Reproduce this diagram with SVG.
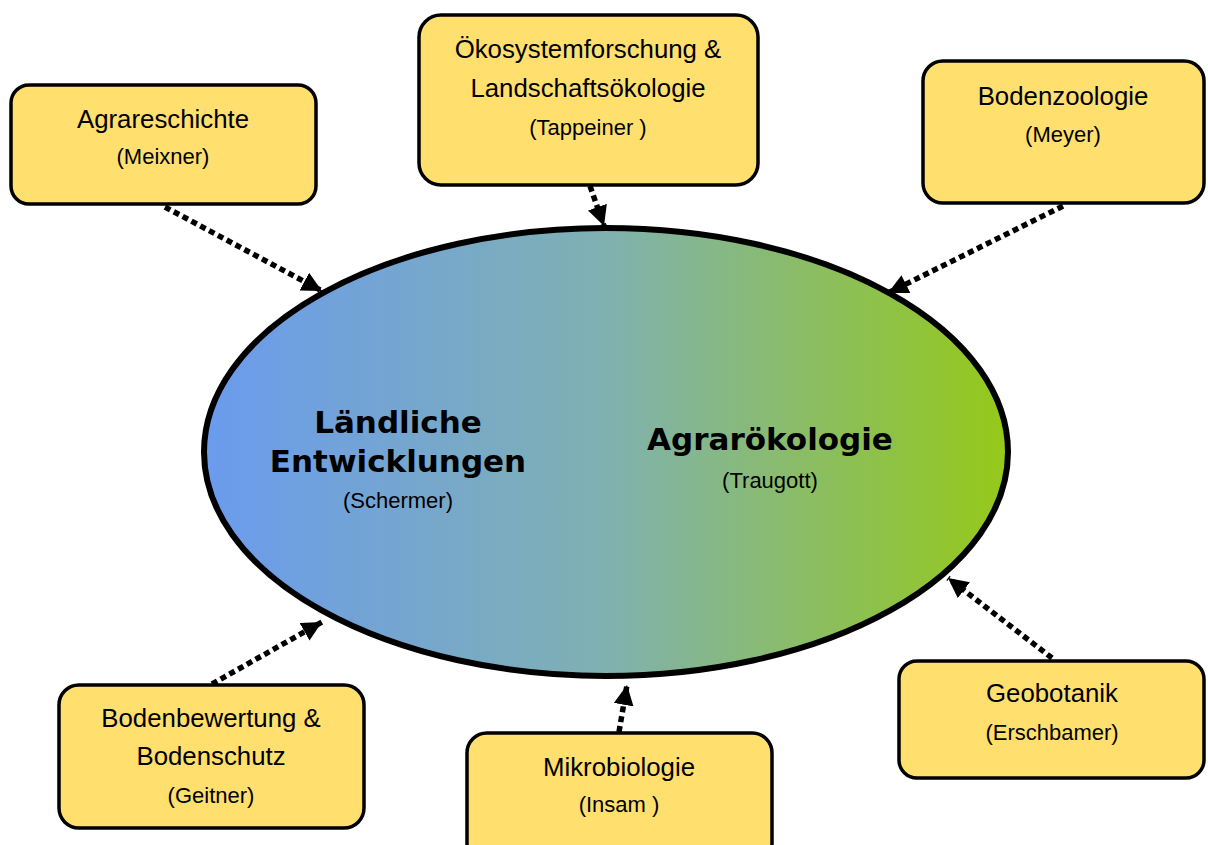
<svg xmlns="http://www.w3.org/2000/svg" width="1208" height="845" viewBox="0 0 1208 845">
<style>
.box{fill:#ffe06f;stroke:#000;stroke-width:3.5}
.t{font-family:"Liberation Sans",Arial,sans-serif;font-size:25.8px;fill:#000;text-anchor:middle}
.s{font-family:"Liberation Sans",Arial,sans-serif;font-size:22px;fill:#000;text-anchor:middle}
.b{font-family:"DejaVu Sans",Verdana,sans-serif;font-weight:bold;font-size:31px;fill:#000;text-anchor:middle}
.c{fill:none;stroke:#000;stroke-width:5.5;stroke-dasharray:6 4;marker-end:url(#ah)}
</style>
<defs>
<linearGradient id="g" x1="0" y1="0" x2="1" y2="0">
<stop offset="0" stop-color="#6a9bee"/>
<stop offset="0.5" stop-color="#80b1b1"/>
<stop offset="1" stop-color="#95c918"/>
</linearGradient>
<marker id="ah" markerUnits="userSpaceOnUse" markerWidth="20" markerHeight="20" refX="17" refY="8.5" orient="auto" viewBox="0 0 17 17">
<path d="M0,0 L17,8.5 L0,17 Z" fill="#000"/>
</marker>
</defs>
<rect width="1208" height="845" fill="#fff"/>
<g id="connectors">
<path class="c" d="M165,207 L322,291"/>
<path class="c" d="M590,186 L604,226"/>
<path class="c" d="M1063,206 L888,293"/>
<path class="c" d="M212,684 L322,622"/>
<path class="c" d="M619,732 L627,685"/>
<path class="c" d="M1052,658 L948,578"/>
</g>
<g id="center">
<ellipse cx="606" cy="452" rx="402" ry="224" fill="url(#g)" stroke="#000" stroke-width="6"/>
<text class="b" x="398" y="433">Ländliche</text>
<text class="b" x="398" y="472">Entwicklungen</text>
<text class="s" x="398" y="508">(Schermer)</text>
<text class="b" x="770" y="450">Agrarökologie</text>
<text class="s" x="770" y="488">(Traugott)</text>
</g>
<g id="agrar">
<rect class="box" x="11" y="85" width="305" height="119" rx="18"/>
<text class="t" x="163" y="128">Agrareschichte</text>
<text class="s" x="163" y="164">(Meixner)</text>
</g>
<g id="oeko">
<rect class="box" x="419" y="15" width="339" height="170" rx="22"/>
<text class="t" x="588" y="58">Ökosystemforschung &amp;</text>
<text class="t" x="588" y="97">Landschaftsökologie</text>
<text class="s" x="588" y="135">(Tappeiner )</text>
</g>
<g id="bodenzoo">
<rect class="box" x="923" y="61" width="281" height="142" rx="20"/>
<text class="t" x="1063" y="105">Bodenzoologie</text>
<text class="s" x="1063" y="142">(Meyer)</text>
</g>
<g id="bodenbew">
<rect class="box" x="59" y="685" width="305" height="143" rx="20"/>
<text class="t" x="211" y="727">Bodenbewertung &amp;</text>
<text class="t" x="211" y="765">Bodenschutz</text>
<text class="s" x="211" y="803">(Geitner)</text>
</g>
<g id="mikro">
<rect class="box" x="467" y="733" width="305" height="130" rx="20"/>
<text class="t" x="619" y="776">Mikrobiologie</text>
<text class="s" x="619" y="812">(Insam )</text>
</g>
<g id="geo">
<rect class="box" x="899" y="661" width="305" height="117" rx="18"/>
<text class="t" x="1052" y="702">Geobotanik</text>
<text class="s" x="1052" y="740">(Erschbamer)</text>
</g>
</svg>
